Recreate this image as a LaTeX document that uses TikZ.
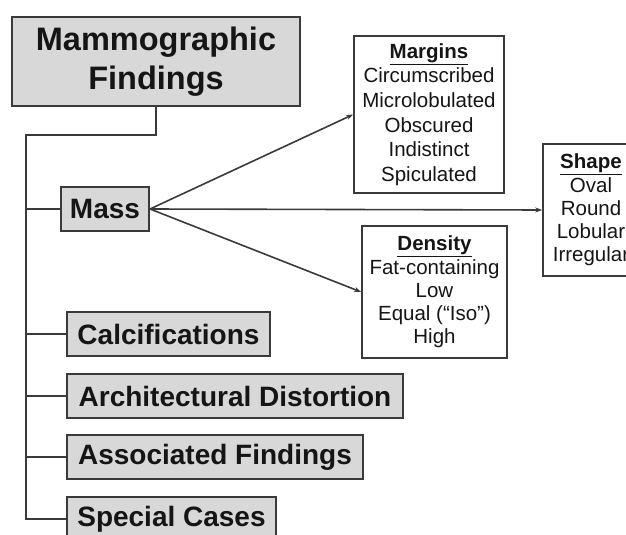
\documentclass[tikz,border=0pt]{standalone}
\usepackage{fontspec}
\setmainfont{Liberation Sans}
\usetikzlibrary{arrows.meta}
\definecolor{boxgray}{HTML}{D8D8D8}
\definecolor{edge}{HTML}{3A3A3A}
\definecolor{ink}{HTML}{151515}
\begin{document}
\begin{tikzpicture}[x=1pt,y=1pt,
  catbox/.style={draw=edge, line width=2pt, fill=boxgray, inner sep=0pt,
    text=ink, font=\fontsize{28}{34}\selectfont\bfseries, minimum height=44pt},
  listbox/.style={draw=edge, line width=1.6pt, fill=white, inner sep=0pt,
    text=ink, align=center},
  link/.style={draw=edge, line width=1.6pt},
  arrowlink/.style={link, -{Stealth[length=7pt,width=5pt]}}
]
\useasboundingbox (0,0) rectangle (626,-535);
\clip (0,0) rectangle (626,-535);

% root of the tree
\node[catbox, minimum width=288pt, minimum height=89pt, align=center,
      font=\fontsize{32.5}{38.5}\selectfont\bfseries] (title) at (156,-61.5)
  {Mammographic\\Findings};

% category boxes
\node[catbox, minimum width=88pt]  (mass)    at (105,-209)   {Mass};
\node[catbox, minimum width=203pt] (calc)    at (168.5,-334) {Calcifications};
\node[catbox, minimum width=336pt] (arch)    at (235,-396)   {Architectural Distortion};
\node[catbox, minimum width=296pt] (assoc)   at (215,-457)   {Associated Findings};
\node[catbox, minimum width=209pt] (special) at (171.5,-519) {Special Cases};

% descriptor boxes for masses
\node[listbox, minimum width=150pt, minimum height=157pt,
      font=\fontsize{20.5}{24.7}\selectfont] (margins) at (429,-114.5)
  {\underline{\textbf{Margins}}\\Circumscribed\\Microlobulated\\Obscured\\Indistinct\\Spiculated};
\node[listbox, minimum width=145pt, minimum height=132pt,
      font=\fontsize{20.5}{23.3}\selectfont] (density) at (434.5,-292)
  {\underline{\textbf{Density}}\\Fat-containing\\Low\\Equal (``Iso'')\\High};
\node[listbox, minimum width=96pt, minimum height=132pt,
      font=\fontsize{20.5}{23.3}\selectfont] (shape) at (591,-210)
  {\underline{\textbf{Shape}}\\Oval\\Round\\Lobular\\Irregular};

% tree trunk and branches
\coordinate (trunktop) at (26,-135);
\draw[link] (title.south) |- (trunktop) |- (special.west);
\draw[link] (trunktop |- mass.west)  -- (mass.west);
\draw[link] (trunktop |- calc.west)  -- (calc.west);
\draw[link] (trunktop |- arch.west)  -- (arch.west);
\draw[link] (trunktop |- assoc.west) -- (assoc.west);

% arrows from Mass to its descriptors
\draw[arrowlink] (mass.east) -- (margins.west);
\draw[arrowlink] (mass.east) -- (shape.west);
\draw[arrowlink] (mass.east) -- (density.west);
\end{tikzpicture}
\end{document}
